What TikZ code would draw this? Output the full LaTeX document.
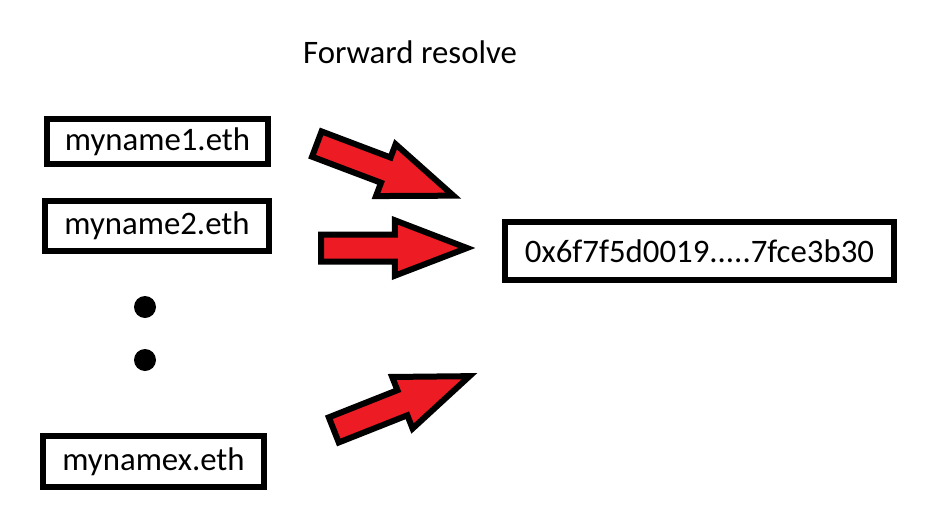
\documentclass[tikz,border=0pt]{standalone}
\usepackage{fontspec}
\setmainfont{Carlito}
\usetikzlibrary{shapes.arrows}
\definecolor{paintred}{RGB}{237,28,36}

\begin{document}
\begin{tikzpicture}[x=0.5pt, y=-0.5pt, every node/.style={font=\fontsize{16.4}{20}\selectfont},
  namebox/.style={draw, line width=3pt, inner sep=0pt, minimum height=22.5pt, align=center},
  bigarrow/.style={single arrow, draw, fill=paintred, line width=3pt, inner sep=0pt, inner ysep=5.25pt,
    minimum height=73pt, minimum width=22pt, single arrow tip angle=42, single arrow head indent=0pt, anchor=tail},
  bigdot/.style={circle, fill=black, inner sep=0pt, minimum size=11pt}]
\useasboundingbox (0,0) rectangle (942,514);
% Title
\node (title) at (410,52) {Forward resolve};
% Names
\node[namebox, minimum width=110.5pt] (name1) at (157.5,141.5) {myname1.eth};
\node[namebox, minimum width=112pt, minimum height=25pt] (name2) at (157,226) {myname2.eth};
\node[bigdot] (dot1) at (145,307) {};
\node[bigdot] (dot2) at (145,360) {};
\node[namebox, minimum width=110.5pt, minimum height=25.5pt] (namex) at (153.5,461.5) {mynamex.eth};
% Address
\node[namebox, minimum width=194.5pt, minimum height=29pt] (addr) at (699.5,251) {0x6f7f5d0019.....7fce3b30};
% Arrows
\node[bigarrow, rotate=-20.7] (arrow1) at (314,143) {};
\node[bigarrow] (arrow2) at (318,248) {};
\node[bigarrow, rotate=21.6] (arrow3) at (331,431) {};
\end{tikzpicture}
\end{document}
